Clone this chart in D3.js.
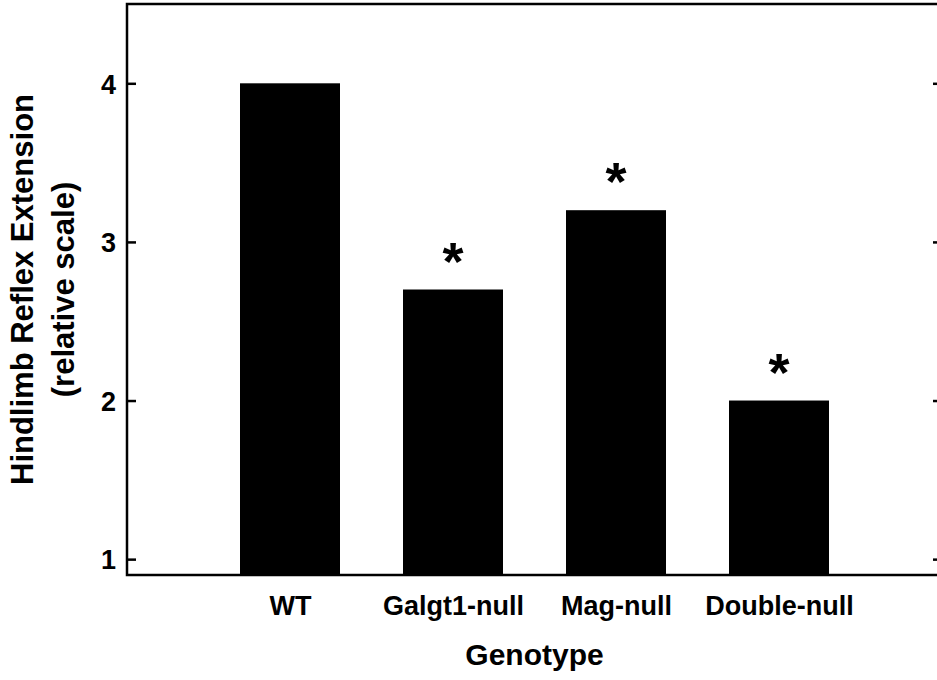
<!DOCTYPE html>
<html lang="en">
<head>
    <meta charset="UTF-8">
    <title>Hindlimb Reflex Extension</title>
    <script src="https://cdn.jsdelivr.net/npm/d3@7/dist/d3.min.js"></script>
    <style>
        body { margin: 0; background: #fff; }
        text { font-family: "Liberation Sans", Arial, sans-serif; font-weight: bold; fill: #000; }
    </style>
</head>
<body>
    <svg width="937" height="680"></svg>

    <script>
        // data
        var genotypes = ['WT', 'Galgt1-null', 'Mag-null', 'Double-null'];
        var values = [4.0, 2.7, 3.2, 2.0];
        var significant = [false, true, true, true];
        var yTicks = [1, 2, 3, 4];

        var svg = d3.select('svg');
        // plot edges (names avoid window.top)
        var plotL = 127, plotR = 942, plotT = 4, plotB = 575;

        // scales
        var x = d3.scalePoint().domain(genotypes).range([plotL, plotR]).padding(1);
        var y = d3.scaleLinear().domain([0.9, 4.5]).range([plotB, plotT]);
        var barW = 100;

        // bars
        svg.selectAll('rect.bar').data(values).enter().append('rect')
            .attr('class', 'bar')
            .attr('x', function (d, i) { return x(genotypes[i]) - barW / 2; })
            .attr('y', function (d) { return y(d); })
            .attr('width', barW)
            .attr('height', function (d) { return y(y.domain()[0]) - y(d); })
            .attr('fill', '#000');

        // asterisks over significant bars
        var starData = genotypes.map(function (g, i) { return { g: g, v: values[i], s: significant[i] }; })
            .filter(function (d) { return d.s; });
        svg.selectAll('text.star').data(starData).enter().append('text')
            .attr('class', 'star')
            .attr('x', function (d) { return x(d.g); })
            .attr('y', function (d) { return y(d.v) - 10; })
            .attr('text-anchor', 'middle')
            .style('font-size', '54px')
            .text('*');

        // frame
        svg.append('rect')
            .attr('x', plotL).attr('y', plotT)
            .attr('width', plotR - plotL).attr('height', plotB - plotT)
            .attr('fill', 'none').attr('stroke', '#000').attr('stroke-width', 2.5);

        // left axis, ticks pointing inward
        var axL = svg.append('g').attr('transform', 'translate(' + plotL + ',0)')
            .call(d3.axisLeft(y).tickValues(yTicks).tickFormat(d3.format('d'))
                .tickSizeInner(-9).tickSizeOuter(0).tickPadding(11));
        axL.select('.domain').remove();
        axL.selectAll('line').attr('stroke-width', 2.5);
        axL.selectAll('text').style('font-size', '27px').attr('dy', '0.36em');

        // right axis ticks, inward
        var axR = svg.append('g').attr('transform', 'translate(' + plotR + ',0)')
            .call(d3.axisRight(y).tickValues(yTicks).tickSizeInner(-9).tickSizeOuter(0).tickFormat(''));
        axR.select('.domain').remove();
        axR.selectAll('line').attr('stroke-width', 2.5);

        // bottom labels
        var axB = svg.append('g').attr('transform', 'translate(0,' + plotB + ')')
            .call(d3.axisBottom(x).tickSize(0).tickPadding(21));
        axB.select('.domain').remove();
        axB.selectAll('text').style('font-size', '27px');

        // axis titles
        svg.append('text')
            .attr('x', (plotL + plotR) / 2).attr('y', 665)
            .attr('text-anchor', 'middle')
            .style('font-size', '30px')
            .text('Genotype');

        var yMid = (plotT + plotB) / 2;
        svg.append('text')
            .attr('transform', 'translate(33,' + yMid + ') rotate(-90)')
            .attr('text-anchor', 'middle')
            .style('font-size', '31px')
            .text('Hindlimb Reflex Extension');
        svg.append('text')
            .attr('transform', 'translate(74,' + yMid + ') rotate(-90)')
            .attr('text-anchor', 'middle')
            .style('font-size', '31px')
            .text('(relative scale)');
    </script>
</body>
</html>
